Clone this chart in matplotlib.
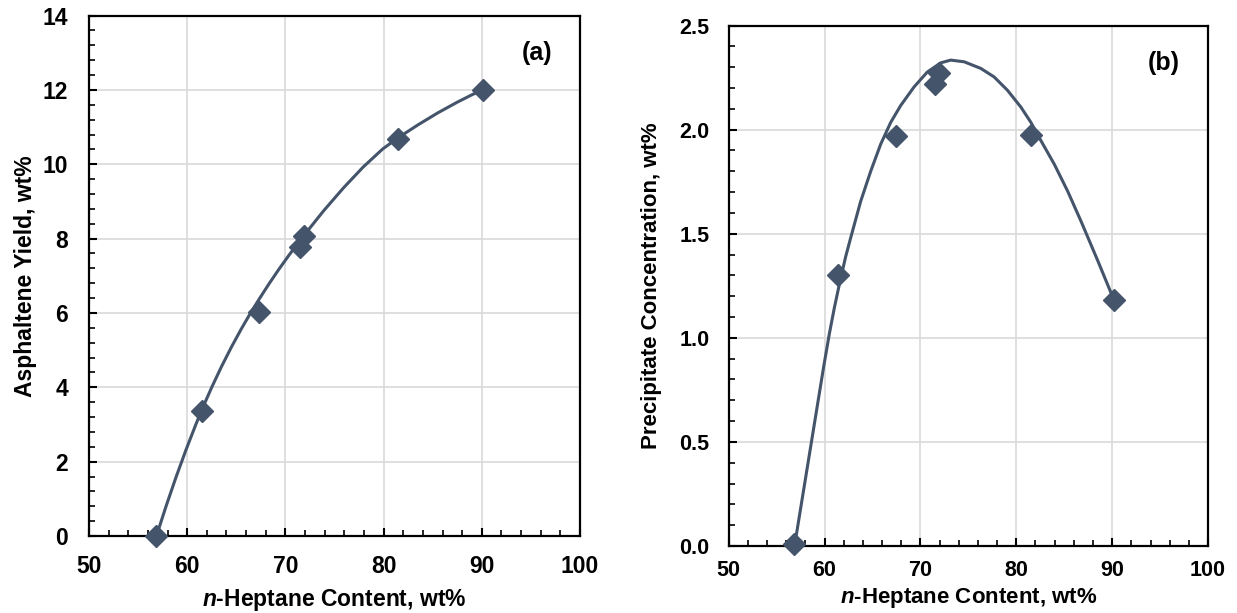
import matplotlib
matplotlib.use("Agg")
import matplotlib.pyplot as plt
from matplotlib.ticker import MultipleLocator

plt.rcParams["font.family"] = ["Liberation Sans", "DejaVu Sans"]
plt.rcParams["font.weight"] = "bold"
plt.rcParams["mathtext.fontset"] = "custom"
plt.rcParams["mathtext.bfit"] = "Liberation Sans:italic:bold"
plt.rcParams["mathtext.rm"] = "Liberation Sans:bold"

# measured points
heptane = [56.8, 61.5, 67.3, 71.5, 71.9, 81.5, 90.1]
yield_a = [0.0, 3.35, 6.02, 7.78, 8.07, 10.67, 12.01]
heptane_b = [56.8, 61.4, 67.4, 71.5, 71.9, 81.5, 90.2]
precip_b = [0.01, 1.30, 1.97, 2.22, 2.27, 1.975, 1.18]

# trendlines
trend_a_x = [56.87, 57.87, 58.87, 59.87, 60.87, 61.5, 62.5, 63.5, 64.5, 65.5,
             66.5, 67.3, 68.3, 69.3, 70.3, 71.3, 71.9, 73.9, 75.9, 77.9,
             79.9, 81.52, 83.5, 85.5, 87.5, 89.0, 90.1]
trend_a_y = [0.0, 0.815, 1.585, 2.31, 2.99, 3.40, 4.0, 4.56, 5.08, 5.565,
             6.02, 6.36, 6.77, 7.16, 7.53, 7.885, 8.09, 8.75, 9.36, 9.92,
             10.41, 10.72, 11.06, 11.38, 11.67, 11.87, 12.0]
trend_b_x = [56.9, 57.5, 58.1, 58.7, 59.3, 59.9, 60.5, 61.0, 61.6, 62.2,
             62.72, 63.76, 64.81, 65.85, 66.9, 67.94, 69.33, 70.72, 72.12,
             73.16, 74.56, 76.3, 77.69, 79.08, 80.48, 81.52, 82.57, 83.96,
             85.35, 86.75, 88.5, 90.2]
trend_b_y = [0.01, 0.18, 0.35, 0.52, 0.69, 0.86, 1.02, 1.14, 1.27, 1.39,
             1.48, 1.655, 1.80, 1.93, 2.035, 2.116, 2.205, 2.277, 2.321,
             2.334, 2.326, 2.294, 2.253, 2.189, 2.108, 2.035, 1.947, 1.834,
             1.705, 1.56, 1.37, 1.18]

line_col = "#44546A"
grid_col = "#D9D9D9"

fig = plt.figure(figsize=(12.37, 6.13), dpi=100)
ax_a = fig.add_axes([0.0719, 0.1256, 0.397, 0.849])
ax_b = fig.add_axes([0.5891, 0.1093, 0.3875, 0.849])


def style(ax, ymax, ymajor, yminor, ylabel, yfmt, tsize, lsize, xpad, ypad):
    ax.set_xlim(50, 100)
    ax.set_ylim(0, ymax)
    ax.xaxis.set_major_locator(MultipleLocator(10))
    ax.xaxis.set_minor_locator(MultipleLocator(2))
    ax.yaxis.set_major_locator(MultipleLocator(ymajor))
    ax.yaxis.set_minor_locator(MultipleLocator(yminor))
    if yfmt:
        ax.yaxis.set_major_formatter(yfmt)
    ax.grid(True, which="major", color=grid_col, linewidth=1.2, zorder=0)
    ax.set_axisbelow(True)
    ax.tick_params(which="major", direction="in", length=6, width=1.5,
                   labelsize=tsize)
    ax.tick_params(axis="x", which="major", pad=xpad)
    ax.tick_params(axis="y", which="major", pad=ypad)
    ax.tick_params(which="minor", direction="in", length=4, width=1.2)
    for s in ax.spines.values():
        s.set_color("black")
        s.set_linewidth(1.6)
    for lab in ax.get_xticklabels() + ax.get_yticklabels():
        lab.set_fontweight("bold")
    ax.set_xlabel(r"$\mathbfit{n}$-Heptane Content, wt%", fontsize=lsize,
                  fontweight="bold")
    ax.set_ylabel(ylabel, fontsize=lsize, fontweight="bold")


ax_a.plot(trend_a_x, trend_a_y, color=line_col, linewidth=2.2, zorder=3)
ax_a.plot(heptane, yield_a, linestyle="none", marker="D", markersize=11.5,
          color=line_col, zorder=4, clip_on=False)
style(ax_a, 14, 2, 0.4, "Asphaltene Yield, wt%", None, 16.5, 16.5, 14, 15)
ax_a.xaxis.set_label_coords(0.5, -0.098)
ax_a.yaxis.set_label_coords(-0.106, 0.5)
ax_a.text(0.912, 0.929, "(a)", transform=ax_a.transAxes, fontsize=18,
          fontweight="bold", ha="center", va="center")

ax_b.plot(trend_b_x, trend_b_y, color=line_col, linewidth=2.2, zorder=3)
ax_b.plot(heptane_b, precip_b, linestyle="none", marker="D", markersize=11.5,
          color=line_col, zorder=4, clip_on=False)
style(ax_b, 2.5, 0.5, 0.1, "Precipitate Concentration, wt%", "{x:.1f}",
      15.5, 16, 10, 14)
ax_b.xaxis.set_label_coords(0.5, -0.077)
ax_b.yaxis.set_label_coords(-0.140, 0.5)
ax_b.text(0.907, 0.928, "(b)", transform=ax_b.transAxes, fontsize=18,
          fontweight="bold", ha="center", va="center")

fig.savefig("out.png", dpi=100)
